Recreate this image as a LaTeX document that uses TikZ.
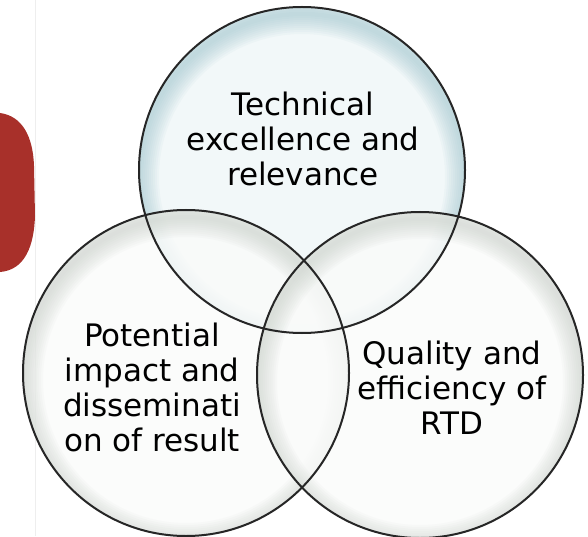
\documentclass[tikz,border=0pt]{standalone}
\usepackage{fontspec}
\setmainfont{DejaVu Sans}
\usetikzlibrary{positioning}

\definecolor{rimgray}{HTML}{262626}
\definecolor{tealin}{HTML}{EFF6F7}
\definecolor{tealout}{HTML}{98C2CA}
\definecolor{greyin}{HTML}{FAFBFA}
\definecolor{greyout}{HTML}{C4CCC4}
\definecolor{capred}{HTML}{A8302A}
\definecolor{edgegray}{HTML}{EEEEEE}

\begin{document}
\begin{tikzpicture}[x=1pt, y=1pt,
  ring/.style={circle, minimum size=326pt, inner sep=0pt},
  rim/.style={draw=rimgray, line width=2pt},
  glow/.style={opacity=0.07},
  lbl/.style={align=center, inner sep=0pt,
              font=\fontsize{31}{35}\selectfont}]
\useasboundingbox (0,0) rectangle (588,536);
\clip (0,0) rectangle (588,536);
% side tab
\draw[edgegray, line width=0.8pt] (35,0) -- (35,536);
\fill[capred] (0,423) .. controls (22,420) and (33,400) .. (34,370)
  -- (35,320) .. controls (34,290) and (25,266) .. (0,264) -- cycle;
% the three circles
\node[ring] (tech) at (302,366) {};
\node[ring] (impact) at (186,163) {};
\node[ring] (quality) at (420,161) {};
% glassy fills: pale body, tinted band along the rim
\foreach \c/\cin/\cout in {tech/tealin/tealout, impact/greyin/greyout,
                           quality/greyin/greyout} {
  \begin{scope}
    \clip (\c.center) circle[radius=163];
    \fill[\cin, fill opacity=0.8] (\c.center) circle[radius=163];
    \foreach \w in {4,8,...,40}
      \draw[\cout, glow, line width=\w pt]
        ([yshift=-7pt]\c.center) circle[radius=163];
  \end{scope}
}
\draw[rim] (tech.center) circle[radius=163];
\draw[rim] (impact.center) circle[radius=163];
\draw[rim] (quality.center) circle[radius=163];
% labels
\node[lbl] (techtxt) at (303,397) {Technical\\excellence and\\relevance};
\node[lbl] (impacttxt) at (152,149)
  {Potential\\impact and\\disseminati\\on of result};
\node[lbl] (qualitytxt) at (452,148) {Quality and\\efficiency of\\RTD};
\end{tikzpicture}
\end{document}
